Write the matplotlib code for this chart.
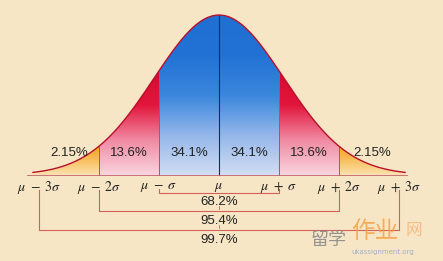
import numpy as np
import matplotlib.pyplot as plt
from matplotlib.colors import LinearSegmentedColormap

plt.rcParams['mathtext.fontset'] = 'stix'

# data
band_edges = [-3, -2, -1, 0, 1, 2, 3]
band_pcts = ["2.15%", "13.6%", "34.1%", "34.1%", "13.6%", "2.15%"]
band_label_x = [-2.5, -1.5, -0.5, 0.5, 1.5, 2.55]
tick_pos = [-3, -2, -1, 0, 1, 2, 3]
tick_labels = [r"$\mu\ -\ 3\sigma$", r"$\mu\ -\ 2\sigma$", r"$\mu\ -\ \sigma$", r"$\mu$",
               r"$\mu\ +\ \sigma$", r"$\mu\ +\ 2\sigma$", r"$\mu\ +\ 3\sigma$"]
span_k = [1, 2, 3]
span_pcts = ["68.2%", "95.4%", "99.7%"]

def curve(z):
    # the drawn bell is a little wider than the sigma marks
    return np.exp(-z ** 2 / (2 * 1.08 ** 2))

fig = plt.figure(figsize=(4.43, 2.61), dpi=100)
fig.patch.set_facecolor("#f7e6c6")
ax = fig.add_axes([0, 0, 1, 1])
ax.set_facecolor("#f7e6c6")
ax.set_xlim(-3.65, 3.733)
ax.set_ylim(-0.5375, 1.094)
ax.axis("off")

blue = LinearSegmentedColormap.from_list("b", ["#d2def3", "#93b6ea", "#3a86dc", "#2272d6", "#2070d4"])
red = LinearSegmentedColormap.from_list("r", ["#f9d4de", "#f08aa2", "#e2163c", "#d80a30"])
orange = LinearSegmentedColormap.from_list("o", ["#fbe2b0", "#f8c060", "#f5a21c"])
cmaps = [orange, red, blue, blue, red, orange]

grad = np.linspace(0, 1, 256).reshape(-1, 1)
for i in range(6):
    a, b = band_edges[i], band_edges[i + 1]
    if i == 0:
        a = -3.1
    if i == 5:
        b = 3.1
    zz = np.linspace(a, b, 200)
    poly = ax.fill_between(zz, 0, curve(zz), color="none", lw=0)
    top = curve(zz).max()
    im = ax.imshow(grad, cmap=cmaps[i], origin="lower", aspect="auto",
                   extent=[a, b, 0, top], zorder=1)
    im.set_clip_path(poly.get_paths()[0], transform=ax.transData)
    ax.text(band_label_x[i], 0.137, band_pcts[i], ha="center", va="center",
            fontsize=9.5, family="Liberation Sans", color="#222222", zorder=3)

# dividers
for e in [-2, -1, 1, 2]:
    ax.plot([e, e], [0, curve(e)], color="#b05070", lw=0.7, zorder=2)
ax.plot([0, 0], [0, 1], color="#302050", lw=0.8, zorder=2)

z = np.linspace(-3.1, 3.1, 400)
ax.plot(z, curve(z), color="#b8102a", lw=1.0, zorder=2)
ax.plot([-3.2, 3.13], [0, 0], color="#c06070", lw=0.6, zorder=2)

for p, lab in zip(tick_pos, tick_labels):
    ax.text(p, -0.075, lab, ha="center", va="center", fontsize=10, color="#222222")

# span brackets
line_c = "#d4605a"
bracket_y = [-0.112, -0.225, -0.344]
top_y = [-0.09, -0.095, -0.095]
text_y = [-0.168, -0.288, -0.406]
for k, pct, by, ty, txy in zip(span_k, span_pcts, bracket_y, top_y, text_y):
    ax.plot([-k, -k, k, k], [ty, by, by, ty], color=line_c, lw=0.8)
    ax.text(0, txy, pct, ha="center", va="center", fontsize=9.5,
            family="Liberation Sans", color="#222222")
ax.plot([0, 0], [-0.125, -0.145], color=line_c, lw=0.6)
ax.plot([0, 0], [-0.192, -0.213], color=line_c, lw=0.6)
ax.plot([0, 0], [-0.31, -0.332], color=line_c, lw=0.6)

# watermark
ax.text(1.82, -0.406, "留学", fontsize=13, color="#8a8a8a", family="Noto Sans CJK SC",
        ha="center", va="center", alpha=0.9)
ax.text(2.6, -0.356, "作业", fontsize=17, color="#f4a040", family="Noto Sans CJK SC",
        ha="center", va="center", alpha=0.8)
ax.text(3.25, -0.344, "网", fontsize=12, color="#f4b070", family="Noto Sans CJK SC",
        ha="center", va="center", alpha=0.75)
ax.text(2.73, -0.48, "ukassignment.org", fontsize=5, color="#a0b0c8",
        ha="center", va="center")

fig.savefig("out.png", dpi=100, facecolor=fig.get_facecolor())
